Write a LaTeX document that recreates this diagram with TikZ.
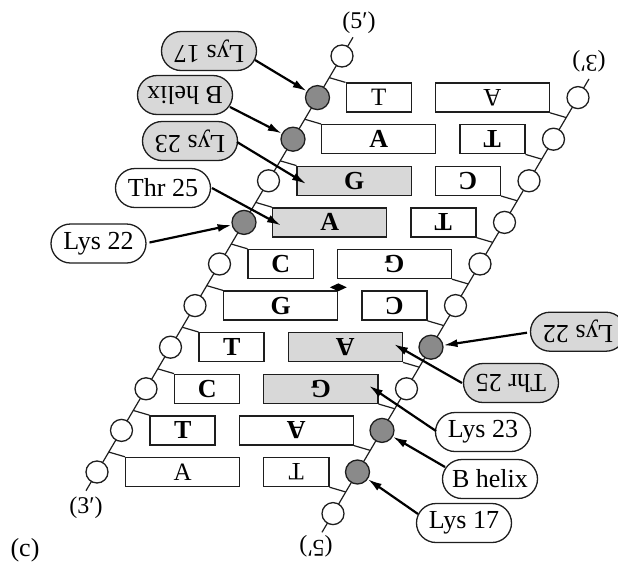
\documentclass[tikz,border=0pt]{standalone}
\usepackage{fontspec}
\setmainfont{Liberation Serif}
\usetikzlibrary{shapes.misc, shapes.geometric, arrows.meta, calc}
\definecolor{stipF}{HTML}{D8D8D8}
\definecolor{beadF}{HTML}{8A8A8A}
\definecolor{inkS}{HTML}{1E1E1E}
\tikzset{
  >={Latex[length=14pt, width=8pt]},
  spine/.style={draw=inkS, line width=1.2pt},
  bead/.style={circle, draw=inkS, line width=1.3pt, fill=white,
    minimum size=22pt, inner sep=0pt},
  hbead/.style={bead, fill=beadF, minimum size=24pt},
  base/.style={draw=inkS, line width=1.4pt, minimum height=29pt,
    inner sep=0pt, anchor=west, fill=white,
    font=\fontsize{26}{26}\selectfont\bfseries},
  pur/.style={base, minimum width=114pt},
  pyr/.style={base, minimum width=65pt},
  wbox/.style={fill=white},
  sbox/.style={fill=stipF},
  bld/.style={},
  reg/.style={font=\fontsize{25}{25}\selectfont},
  tag/.style={rounded rectangle, draw=inkS, line width=1.3pt, fill=white,
    minimum width=99pt, minimum height=39pt, inner sep=2pt,
    font=\fontsize{26}{26}\selectfont},
  stag/.style={tag, fill=stipF},
  flow/.style={->, line width=2.2pt, draw=black},
  endlbl/.style={font=\fontsize{24}{24}\selectfont, inner sep=0pt},
}

\begin{document}
\begin{tikzpicture}[x=1pt, y=1pt]
  \useasboundingbox (-337.5,-281.2) rectangle (280.5,284.8);

  % ---- two strands, the second one turned by 180 degrees -----------------
  \foreach \ang/\sd in {0/L, 180/R} {
  \begin{scope}[rotate=\ang, transform shape]
    \draw[spine] (-251.5,-205.9) -- (15.5,247.5);
    \foreach \i/\b/\w/\f/\g in {0/A/pur/wbox/reg, 1/T/pyr/wbox/bld,
        2/C/pyr/wbox/bld, 3/T/pyr/wbox/bld, 4/G/pur/wbox/bld,
        5/C/pyr/wbox/bld, 6/A/pur/sbox/bld, 7/G/pur/sbox/bld,
        8/A/pur/wbox/bld, 9/T/pyr/wbox/reg} {
      \node[\w, \f, \g] (b\sd\i) at ({-212.5+24.5*\i}, {-187.2+41.6*\i}) {\b};
      \draw[spine] ({-240.5+24.5*(\i+0.48)}, {-187.2+41.6*(\i+0.48)})
        -- (b\sd\i.north west);
    }
    \foreach \i/\k in {0/bead, 1/bead, 2/bead, 3/bead, 4/bead, 5/bead,
        6/hbead, 7/bead, 8/hbead, 9/hbead, 10/bead} {
      \node[\k] (c\sd\i) at ({-240.5+24.5*\i}, {-187.2+41.6*\i}) {};
    }
    \node[endlbl] (three\sd) at (-251.5,-223.2) {(3′)};
    \node[endlbl] (five\sd)  at (21.5,261.8)    {(5′)};
  \end{scope}
  }

  % ---- dyad axis ---------------------------------------------------------
  \node[diamond, fill=black, aspect=2, minimum width=17pt, minimum height=8pt,
        inner sep=0pt] (dyad) at (0.8,-2.5) {};

  % ---- contacts on the upper left ----------------------------------------
  \node[stag, rotate=180] (tL17) at (-128.5,233.8) {Lys 17};
  \node[stag, rotate=180] (tLB)  at (-152.5,189.8) {B helix};
  \node[stag, rotate=180] (tL23) at (-147.5,143.8) {Lys 23};
  \node[tag]              (tLT)  at (-174.5,96.8)  {Thr 25};
  \node[tag]              (tL22) at (-239,41.3)    {Lys 22};

  \draw[flow] ($(tL17)+(46,-9)$)  -- (cL9);
  \draw[flow] ($(tLB)+(45,-12)$)  -- (cL8);
  \draw[flow] ($(tL23)+(47,-1)$)  -- ($(bL7.west)+(9.5,-3)$);
  \draw[flow] ($(tLT)+(49,0)$)    -- ($(bL6.west)+(9,-3)$);
  \draw[flow] ($(tL22)+(51,1)$)   -- (cL6);

  % ---- contacts on the lower right ---------------------------------------
  \node[stag, rotate=180] (tR22) at (240.5,-46.9)  {Lys 22};
  \node[stag, rotate=180] (tRT)  at (173.5,-98.2)  {Thr 25};
  \node[tag]              (tR23) at (145.5,-147.2) {Lys 23};
  \node[tag]              (tRB)  at (152.5,-194.2) {B helix};
  \node[tag]              (tR17) at (126.5,-238.2) {Lys 17};

  \draw[flow] ($(tR22)+(-51,-1)$) -- (cR6);
  \draw[flow] ($(tRT)+(-49,0)$)   -- ($(bR6.west)+(-9,3)$);
  \draw[flow] ($(tR23)+(-47,1)$)  -- ($(bR7.west)+(-9.5,3)$);
  \draw[flow] ($(tRB)+(-45,12)$)  -- (cR8);
  \draw[flow] ($(tR17)+(-46,9)$)  -- (cR9);

  \node[font=\fontsize{26}{26}\selectfont] (panel) at (-312.5,-265.2) {(c)};
\end{tikzpicture}
\end{document}
